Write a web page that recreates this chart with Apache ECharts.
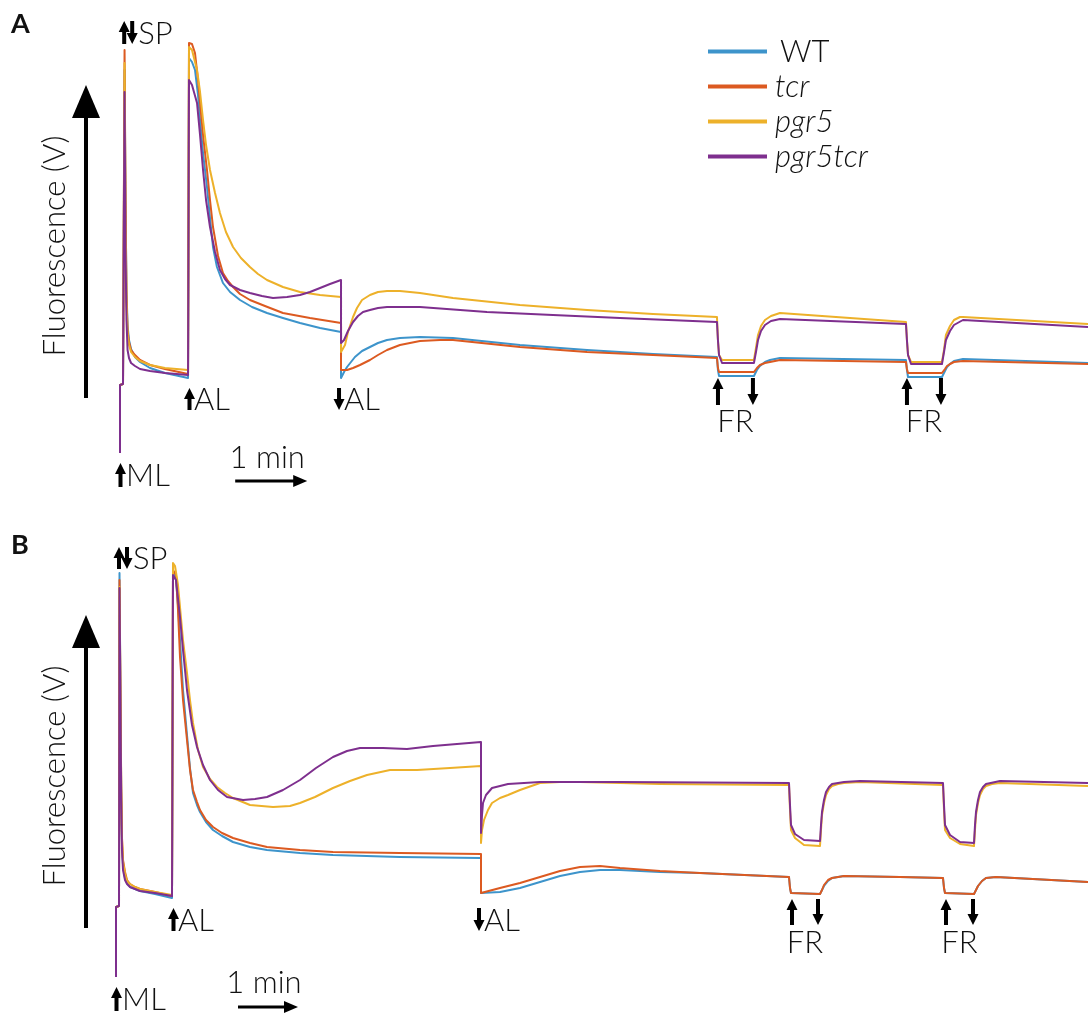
<!DOCTYPE html>
<html lang="en">
<head>
    <meta charset="UTF-8">
    <title>chlorophyll fluorescence traces</title>
    <style>
        html, body { margin: 0; padding: 0; background: #fff; }
        #c { width: 1088px; height: 1019px; }
    </style>
</head>
<body>
    <div id="c"></div>
</body>
<script src="https://cdn.jsdelivr.net/npm/echarts@6.0.0/dist/echarts.min.js"></script>
<script>
    // time in s (0 = ML on), fluorescence in V
    const NAMES = ['WT', 'tcr', 'pgr5', 'pgr5tcr']
    const COLORS = ['#3d94cb', '#dc5a21', '#edb12a', '#7e2f8e']

    // panel A
    const A_WT = [[0,0.17],[0,0.85],[2.5,0.86],[3.3,0.86],[3.8,4.00],[4.6,2.70],[5.4,1.80],[6.3,1.45],[7.5,1.30],[9.2,1.21],[12.5,1.13],[16.7,1.08],[25,1.02],[37.5,0.97],[56.7,0.92],
        [57.5,4.12],[60,4.08],[62.5,4.00],[65,3.75],[66.7,3.50],[69.2,3.17],[72.5,2.83],[75,2.52],[77.5,2.23],[80.8,2.03],[85.8,1.87],[91.7,1.78],[100,1.70],[110,1.63],[122.5,1.57],[135.8,1.52],[150,1.47],[166.7,1.42],[184.2,1.38],
        [184.2,0.92],[186.7,0.98],[189.2,1.03],[195.8,1.13],[201.7,1.19],[208.3,1.23],[215,1.27],[222.5,1.30],[233.3,1.32],[250,1.33],[277.5,1.32],[333.3,1.25],[389.2,1.20],[444.2,1.16],[497.5,1.13],
        [498.3,1.00],[499.2,0.94],[528.3,0.94],[530.8,1.00],[533.3,1.04],[537.5,1.08],[541.7,1.10],[550,1.12],[655,1.10],
        [655.8,1.00],[656.7,0.93],[685,0.93],[687.5,0.99],[689.2,1.03],[691.7,1.06],[695,1.09],[702.5,1.11],[806.7,1.07]]
    const A_TCR = [[0,0.17],[0,0.85],[2.5,0.86],[3.3,0.86],[3.8,4.20],[4.6,2.70],[5.4,1.75],[6.3,1.40],[7.5,1.28],[9.2,1.20],[12.5,1.15],[16.7,1.10],[25,1.05],[37.5,1.01],[56.7,0.96],
        [57.5,4.27],[60,4.26],[62.5,4.17],[65,3.90],[66.7,3.67],[69.2,3.35],[72.5,3.00],[75,2.70],[77.5,2.43],[81.7,2.14],[85.8,1.97],[90,1.89],[94.2,1.83],[100,1.76],[108.3,1.70],[120.8,1.64],[135.8,1.57],[158.3,1.52],[184.2,1.47],
        [184.2,1.00],[189.2,1.00],[194.2,1.02],[200,1.05],[208.3,1.10],[215,1.15],[222.5,1.20],[233.3,1.25],[250,1.29],[266.7,1.30],[277.5,1.30],[333.3,1.23],[389.2,1.18],[444.2,1.15],[497.5,1.12],
        [498.3,1.02],[499.2,0.98],[528.3,0.98],[530.8,1.02],[533.3,1.05],[537.5,1.07],[541.7,1.08],[550,1.10],[655,1.08],
        [655.8,1.01],[656.7,0.97],[685,0.97],[687.5,1.01],[689.2,1.04],[691.7,1.06],[695,1.08],[702.5,1.09],[806.7,1.06]]
    const A_PGR5 = [[0,0.17],[0,0.85],[2.5,0.86],[3.3,0.86],[3.8,4.07],[4.6,2.50],[5.4,1.70],[6.3,1.35],[7.5,1.25],[9.2,1.18],[12.5,1.13],[16.7,1.09],[25,1.05],[37.5,1.02],[56.7,1.00],
        [57.5,4.23],[60,4.20],[64.2,4.00],[66.7,3.78],[69.2,3.50],[71.7,3.25],[75,3.00],[79.2,2.77],[83.3,2.57],[88.3,2.38],[94.2,2.23],[100.8,2.12],[108.3,2.03],[115,1.96],[122.5,1.90],[135.8,1.83],[150,1.78],[166.7,1.75],[184.2,1.73],
        [184.2,1.18],[185.8,1.20],[187.5,1.25],[190,1.38],[194.2,1.53],[197.5,1.62],[201.7,1.70],[208.3,1.75],[215,1.78],[222.5,1.79],[233.3,1.79],[250,1.77],[277.5,1.72],[333.3,1.65],[389.2,1.60],[444.2,1.56],[497.5,1.53],
        [498.3,1.30],[499.2,1.15],[501.7,1.10],[528.3,1.10],[530,1.22],[531.7,1.35],[534.2,1.44],[537.5,1.50],[542.5,1.54],[550,1.57],[655,1.48],
        [655.8,1.30],[656.7,1.15],[659.2,1.08],[685,1.08],[686.7,1.20],[688.3,1.35],[691.7,1.44],[695,1.50],[700,1.53],[702.5,1.53],[806.7,1.46]]
    const A_PGR5TCR = [[0,0.17],[0,0.85],[2.5,0.86],[3.3,0.86],[3.8,3.78],[4.6,2.20],[5.4,1.50],[6.3,1.20],[7.5,1.12],[9.2,1.07],[12.5,1.04],[16.7,1.01],[25,0.99],[37.5,0.97],[56.7,0.95],
        [57.5,3.90],[60,3.85],[64.2,3.67],[66.7,3.35],[69.2,3.00],[71.7,2.70],[75,2.43],[79.2,2.18],[83.3,2.00],[87.5,1.91],[91.7,1.85],[100,1.80],[108.3,1.77],[118.3,1.74],[127.5,1.72],[139.2,1.73],[150,1.75],[158.3,1.78],[166.7,1.82],[175,1.86],[184.2,1.90],
        [184.2,1.27],[186.7,1.30],[190,1.39],[194.2,1.48],[198.3,1.54],[202.5,1.58],[208.3,1.60],[215,1.62],[222.5,1.63],[250,1.63],[305.8,1.58],[360.8,1.55],[416.7,1.52],[497.5,1.48],
        [498.3,1.30],[499.2,1.15],[501.7,1.07],[528.3,1.07],[530,1.18],[531.7,1.30],[534.2,1.39],[537.5,1.45],[542.5,1.49],[550,1.51],[655,1.46],
        [655.8,1.30],[656.7,1.15],[659.2,1.06],[685,1.06],[686.7,1.18],[688.3,1.30],[691.7,1.39],[695,1.45],[702.5,1.50],[806.7,1.43]]

    // panel B
    const B_WT = [[0,0.13],[0,0.83],[3,0.84],[3.5,4.17],[4.5,2.90],[5.2,2.00],[6,1.45],[7,1.25],[9,1.12],[11,1.07],[14,1.03],[19,1.01],[24,0.99],[39,0.96],[56,0.92],
        [57,4.18],[60,4.10],[62,3.85],[64,3.50],[67,3.00],[71,2.55],[74,2.22],[77,1.97],[81,1.85],[84,1.78],[90,1.68],[97,1.60],[106,1.54],[117,1.48],[134,1.43],[151,1.40],[184,1.37],[217,1.35],[284,1.33],[365,1.32],
        [365,0.97],[384,0.98],[404,1.02],[424,1.08],[444,1.14],[464,1.18],[484,1.20],[504,1.20],[544,1.18],[584,1.17],[673,1.13],
        [674,1.02],[675,0.97],[704,0.96],[706,1.00],[708,1.04],[712,1.09],[716,1.12],[728,1.14],[784,1.13],[827,1.12],
        [828,1.02],[829,0.97],[858,0.96],[860,1.00],[862,1.04],[866,1.09],[870,1.12],[880,1.13],[972,1.08]]
    const B_TCR = [[0,0.13],[0,0.83],[3,0.84],[3.5,4.10],[4.5,2.90],[5.2,2.05],[6,1.52],[7,1.30],[9,1.18],[11,1.10],[14,1.06],[19,1.03],[24,1.01],[39,0.98],[56,0.94],
        [57,4.20],[60,4.15],[62,3.80],[64,3.33],[67,2.90],[71,2.50],[74,2.20],[77,2.00],[81,1.88],[84,1.80],[90,1.70],[97,1.63],[106,1.57],[117,1.52],[134,1.47],[151,1.43],[184,1.40],[217,1.38],[284,1.37],[365,1.36],
        [365,0.97],[384,1.02],[404,1.07],[424,1.13],[444,1.19],[464,1.23],[484,1.24],[504,1.22],[544,1.19],[584,1.17],[673,1.13],
        [674,1.02],[675,0.97],[704,0.96],[706,1.00],[708,1.05],[712,1.10],[716,1.12],[728,1.14],[784,1.13],[827,1.12],
        [828,1.02],[829,0.97],[858,0.96],[860,1.00],[862,1.04],[866,1.09],[870,1.12],[880,1.13],[972,1.08]]
    const B_PGR5 = [[0,0.13],[0,0.83],[3,0.84],[3.5,4.03],[4.5,2.90],[5.2,2.02],[6,1.50],[7,1.28],[9,1.16],[11,1.09],[14,1.06],[19,1.03],[24,1.01],[39,0.98],[56,0.95],
        [57,4.27],[59,4.24],[62,4.05],[64,3.83],[67,3.50],[71,3.17],[74,2.90],[77,2.67],[82,2.40],[87,2.23],[94,2.11],[101,2.03],[109,1.97],[117,1.92],[134,1.85],[157,1.83],[174,1.84],[184,1.87],[199,1.93],[217,2.02],[234,2.09],[251,2.15],[274,2.20],[301,2.20],[334,2.22],[365,2.24],
        [365,1.47],[366,1.60],[368,1.70],[372,1.80],[376,1.87],[384,1.92],[392,1.95],[404,2.00],[424,2.07],[444,2.08],[464,2.08],[544,2.06],[673,2.05],
        [674,1.80],[675,1.60],[679,1.52],[688,1.45],[704,1.44],[705,1.60],[706,1.75],[708,1.87],[710,1.95],[713,2.01],[716,2.04],[722,2.06],[728,2.07],[744,2.08],[827,2.05],
        [828,1.80],[829,1.60],[834,1.52],[844,1.46],[858,1.44],[859,1.60],[860,1.75],[862,1.87],[864,1.95],[867,2.01],[870,2.04],[876,2.06],[884,2.07],[972,2.04]]
    const B_PGR5TCR = [[0,0.13],[0,0.83],[3,0.84],[3.5,4.02],[4.5,2.80],[5.2,1.90],[6,1.40],[7,1.20],[9,1.10],[11,1.06],[14,1.03],[19,1.01],[24,0.99],[39,0.97],[56,0.94],
        [57,4.15],[60,4.10],[64,3.73],[67,3.40],[71,3.00],[76,2.65],[81,2.43],[87,2.25],[94,2.10],[102,2.00],[111,1.93],[127,1.90],[139,1.91],[151,1.93],[167,2.00],[184,2.10],[200,2.22],[217,2.33],[231,2.39],[244,2.42],[267,2.42],[291,2.41],[317,2.44],[365,2.48],
        [365,1.57],[366,1.75],[367,1.87],[370,1.95],[376,2.02],[384,2.04],[392,2.06],[424,2.08],[504,2.08],[673,2.07],
        [674,1.85],[675,1.65],[679,1.56],[688,1.50],[704,1.49],[705,1.65],[706,1.78],[708,1.90],[710,1.98],[713,2.03],[716,2.06],[728,2.08],[744,2.09],[827,2.07],
        [828,1.85],[829,1.65],[834,1.55],[844,1.48],[858,1.47],[859,1.65],[860,1.78],[862,1.90],[864,1.98],[867,2.03],[870,2.06],[884,2.09],[972,2.07]]

    // light events (s) used for the arrows
    const A_EVENTS = { ML: 0, SP: 3.5, ALon: 57.5, ALoff: 184.2, FRon: [497.5, 655], FRoff: [528.3, 685], bar: [96, 156] }
    const B_EVENTS = { ML: 0, SP: 3.5, ALon: 57, ALoff: 365, FRon: [675, 829], FRoff: [703, 858], bar: [122, 182] }

    const FONT = 'Lato, "Open Sans", sans-serif'
    const INK = '#111'
    const FS = 31

    const chart = echarts.init(document.getElementById('c'), null, { renderer: 'canvas' })

    function lines(data, gi) {
        return data.map((d, i) => ({
            name: NAMES[i],
            type: 'line',
            xAxisIndex: gi,
            yAxisIndex: gi,
            data: d,
            showSymbol: false,
            symbol: 'none',
            lineStyle: { width: 2, color: COLORS[i], join: 'round' },
            itemStyle: { color: COLORS[i] },
            animation: false,
            silent: true
        }))
    }

    chart.setOption({
        animation: false,
        grid: [
            { left: 120, right: 0, top: 20, height: 450 },
            { left: 116, right: 0, top: 540, height: 450 }
        ],
        xAxis: [
            { type: 'value', gridIndex: 0, min: 0, max: 806.7, show: false },
            { type: 'value', gridIndex: 1, min: 0, max: 972, show: false }
        ],
        yAxis: [
            { type: 'value', gridIndex: 0, min: 0, max: 4.5, show: false },
            { type: 'value', gridIndex: 1, min: 0, max: 4.5, show: false }
        ],
        legend: {
            data: NAMES,
            orient: 'vertical',
            left: 703,
            top: 31,
            icon: 'rect',
            itemWidth: 59,
            itemHeight: 4,
            itemGap: 4,
            selectedMode: false,
            formatter: n => n === 'WT' ? '{u|WT}' : '{i|' + n + '}',
            textStyle: {
                rich: {
                    u: { fontSize: FS, fontFamily: FONT, fontWeight: 300, color: INK, lineHeight: 32, padding: [0, 0, 0, 8] },
                    i: { fontSize: FS, fontFamily: FONT, fontWeight: 300, color: INK, lineHeight: 32, fontStyle: 'italic', padding: [0, 0, 0, 3] }
                }
            }
        },
        series: lines([A_WT, A_TCR, A_PGR5, A_PGR5TCR], 0)
            .concat(lines([B_WT, B_TCR, B_PGR5, B_PGR5TCR], 1))
    })

    // ---- annotations ----
    function vArrow(x, yTop, yBot, up) {
        const hw = 5.5, sw = 2, hl = 11
        let pts
        if (up) {
            pts = [[x, yTop], [x + hw, yTop + hl], [x + sw, yTop + hl], [x + sw, yBot], [x - sw, yBot], [x - sw, yTop + hl], [x - hw, yTop + hl]]
        } else {
            pts = [[x, yBot], [x + hw, yBot - hl], [x + sw, yBot - hl], [x + sw, yTop], [x - sw, yTop], [x - sw, yBot - hl], [x - hw, yBot - hl]]
        }
        return { type: 'polygon', shape: { points: pts }, style: { fill: '#000' }, silent: true }
    }
    function label(text, x, y, align, extra) {
        return {
            type: 'text', x: x, y: y, silent: true,
            style: Object.assign({
                text: text, fill: INK, fontSize: FS, fontFamily: FONT, fontWeight: 300,
                align: align, textAlign: align, verticalAlign: 'middle', textVerticalAlign: 'middle'
            }, extra || {})
        }
    }
    function hArrow(x1, x2, y) {
        return [
            { type: 'line', shape: { x1: x1, y1: y, x2: x2 - 10, y2: y }, style: { stroke: '#000', lineWidth: 3 }, silent: true },
            { type: 'polygon', shape: { points: [[x2, y], [x2 - 14, y - 6], [x2 - 14, y + 6]] }, style: { fill: '#000' }, silent: true }
        ]
    }
    function yArrow(x, top, base, bot) {
        return [
            { type: 'line', shape: { x1: x, y1: bot, x2: x, y2: base - 2 }, style: { stroke: '#000', lineWidth: 4 }, silent: true },
            { type: 'polygon', shape: { points: [[x, top], [x + 14, base], [x - 14, base]] }, style: { fill: '#000' }, silent: true }
        ]
    }

    function panelMarks(ev, gi, L) {
        const px = t => chart.convertToPixel({ xAxisIndex: gi }, t)
        const g = []
        g.push(label(L.letter, 11, L.letterY, 'left', { fontWeight: 'bold', fontSize: 27 }))
        g.push(...yArrow(86, L.axTop, L.axBase, L.axBot))
        g.push(label('Fluorescence (V)', 55, L.axMid, 'center'))
        g[g.length - 1].rotation = Math.PI / 2

        const sp = px(ev.SP)
        g.push(vArrow(sp + L.spDx, L.spY[0], L.spY[1], true))
        g.push(vArrow(sp + L.spDx + 8, L.spY[0], L.spY[1], false))
        g.push(label('SP', sp + L.spDx + 14, (L.spY[0] + L.spY[1]) / 2 + 1, 'left'))

        const ml = px(ev.ML)
        g.push(vArrow(ml + 0.5, L.mlY[0], L.mlY[1], true))
        g.push(label('ML', ml + 6, (L.mlY[0] + L.mlY[1]) / 2 + 1, 'left'))

        const on = px(ev.ALon)
        g.push(vArrow(on + 0.5, L.alY[0], L.alY[1], true))
        g.push(label('AL', on + 5, (L.alY[0] + L.alY[1]) / 2 + 1, 'left'))

        const off = px(ev.ALoff)
        g.push(vArrow(off - 2, L.alY[0], L.alY[1], false))
        g.push(label('AL', off + 3, (L.alY[0] + L.alY[1]) / 2 + 1, 'left'))

        for (let i = 0; i < ev.FRon.length; i++) {
            const a = px(ev.FRon[i]), b = px(ev.FRoff[i])
            g.push(vArrow(a + 1, L.frY[0], L.frY[1], true))
            g.push(vArrow(b - 1, L.frY[0], L.frY[1], false))
            g.push(label('FR', (a + b) / 2, L.frText, 'center'))
        }

        const b0 = px(ev.bar[0]), b1 = px(ev.bar[1])
        g.push(label('1 min', (b0 + b1) / 2 - 4, L.barText, 'center'))
        g.push(...hArrow(b0, b1, L.barY))
        return g
    }

    const graphic = panelMarks(A_EVENTS, 0, {
        letter: 'A', letterY: 24, axTop: 85, axBase: 118, axBot: 398, axMid: 246, spDx: 0,
        spY: [21, 44], mlY: [463, 487], alY: [388, 410], frY: [378, 405], frText: 422, barText: 458, barY: 481
    }).concat(panelMarks(B_EVENTS, 1, {
        letter: 'B', letterY: 545, axTop: 615, axBase: 648, axBot: 928, axMid: 776, spDx: -0.5,
        spY: [547, 569], mlY: [987, 1011], alY: [908, 931], frY: [899, 925], frText: 943, barText: 983, barY: 1007
    }))

    chart.setOption({ graphic: graphic })
</script>
</html>
